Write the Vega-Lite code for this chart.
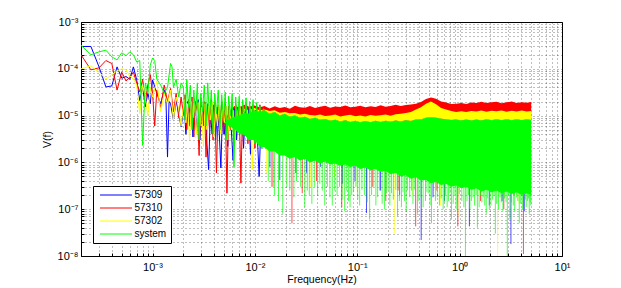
{
"$schema":"https://vega.github.io/schema/vega-lite/v6.json",
"width":481,"height":234,"autosize":"none",
"padding":{"left":81,"top":22,"right":59,"bottom":32},
"background":"#ffffff",
"config":{
"view":{"stroke":"#000000","strokeWidth":1},
"font":"Liberation Sans",
"axis":{"grid":true,"gridDash":[1,3],"gridColor":"#000000","gridOpacity":0.5,"gridWidth":1,"domain":false,"tickColor":"#000000","tickSize":-3,"tickWidth":1,"labelFont":"Liberation Sans","labelFontSize":11,"labelColor":"#000000","titleFont":"Liberation Sans","titleFontSize":10.5,"titleFontWeight":"normal","titleColor":"#000000","labelOverlap":false,"labelFlush":false}
},
"datasets":{
"lines":[
{"s":"57309","f":0.0002,"v":3.0e-4},{"s":"57309","f":0.00025,"v":3.0e-4},{"s":"57309","f":0.0003,"v":1.1e-4},{"s":"57309","f":0.00035,"v":4.1e-5},{"s":"57309","f":0.0004,"v":4.3e-5},{"s":"57309","f":0.00045,"v":1.1e-4},{"s":"57309","f":0.0005,"v":6.3e-5},{"s":"57309","f":0.00055,"v":6.8e-5},{"s":"57309","f":0.0006,"v":6.0e-5},{"s":"57309","f":0.00065,"v":1.1e-4},{"s":"57309","f":0.0007,"v":5.8e-5},{"s":"57309","f":0.00075,"v":2.1e-5},{"s":"57309","f":0.0008,"v":4.1e-5},{"s":"57309","f":0.00085,"v":1.55e-5},{"s":"57309","f":0.0009,"v":3.0e-5},{"s":"57309","f":0.00095,"v":1.8e-5},{"s":"57309","f":0.001,"v":5.8e-5},{"s":"57309","f":0.0011,"v":3.0e-5},{"s":"57309","f":0.0012,"v":1.8e-5},{"s":"57309","f":0.0013,"v":3.5e-5},{"s":"57309","f":0.00135,"v":2.5e-5},{"s":"57309","f":0.0014,"v":1.3e-6},{"s":"57309","f":0.00145,"v":2.0e-5},{"s":"57309","f":0.0015,"v":1.8e-5},{"s":"57309","f":0.0016,"v":8e-6},{"s":"57309","f":0.0017,"v":2.1e-5},{"s":"57309","f":0.0018,"v":1.1e-5},{"s":"57309","f":0.0019,"v":5.8e-6},
{"s":"57309","f":0.00204,"v":1.5e-5},{"s":"57309","f":0.00212,"v":4e-6},{"s":"57309","f":0.0022,"v":2.0e-5},{"s":"57309","f":0.0023,"v":6e-6},{"s":"57309","f":0.00239,"v":1.8e-5},{"s":"57309","f":0.00248,"v":3.5e-6},{"s":"57309","f":0.00258,"v":1.6e-5},{"s":"57309","f":0.00268,"v":5e-6},{"s":"57309","f":0.00279,"v":2.2e-5},{"s":"57309","f":0.0029,"v":3e-6},{"s":"57309","f":0.00302,"v":1.4e-5},{"s":"57309","f":0.00314,"v":6e-6},{"s":"57309","f":0.00326,"v":1.9e-5},{"s":"57309","f":0.0034,"v":2.5e-6},{"s":"57309","f":0.00353,"v":7e-7},{"s":"57309","f":0.00367,"v":1.2e-5},{"s":"57309","f":0.00382,"v":4e-6},{"s":"57309","f":0.00397,"v":1.7e-5},{"s":"57309","f":0.00413,"v":3e-6},{"s":"57309","f":0.0043,"v":1.5e-5},{"s":"57309","f":0.00447,"v":5e-6},{"s":"57309","f":0.00465,"v":7.6e-7},{"s":"57309","f":0.00483,"v":1.3e-5},{"s":"57309","f":0.00503,"v":4e-6},{"s":"57309","f":0.00523,"v":1.6e-5},{"s":"57309","f":0.00543,"v":2.2e-6},{"s":"57309","f":0.00565,"v":1.2e-5},{"s":"57309","f":0.00588,"v":5e-6},{"s":"57309","f":0.00612,"v":1.1e-6},{"s":"57309","f":0.00636,"v":1.4e-5},{"s":"57309","f":0.00662,"v":3e-6},{"s":"57309","f":0.00688,"v":1.3e-5},{"s":"57309","f":0.00716,"v":6e-6},{"s":"57309","f":0.00744,"v":1.5e-5},{"s":"57309","f":0.00774,"v":2e-6},{"s":"57309","f":0.00805,"v":1.2e-5},{"s":"57309","f":0.00837,"v":4e-6},{"s":"57309","f":0.0087,"v":1.4e-5},{"s":"57309","f":0.00905,"v":1.5e-6},{"s":"57309","f":0.00941,"v":1.1e-5},{"s":"57309","f":0.0098,"v":5e-6},{"s":"57309","f":0.0102,"v":1.3e-5},{"s":"57309","f":0.0106,"v":3e-6},{"s":"57309","f":0.011,"v":5e-7},{"s":"57309","f":0.0115,"v":1.0e-5},{"s":"57309","f":0.0119,"v":4e-6},{"s":"57309","f":0.0124,"v":8e-6},
{"s":"57310","f":0.0002,"v":2.0e-4},{"s":"57310","f":0.00025,"v":9.5e-5},{"s":"57310","f":0.0003,"v":1.05e-4},{"s":"57310","f":0.00035,"v":1.5e-4},{"s":"57310","f":0.0004,"v":1.3e-4},{"s":"57310","f":0.00045,"v":3.5e-5},{"s":"57310","f":0.0005,"v":8.5e-5},{"s":"57310","f":0.00055,"v":5.5e-5},{"s":"57310","f":0.0006,"v":6.5e-5},{"s":"57310","f":0.00065,"v":8.5e-5},{"s":"57310","f":0.0007,"v":5.0e-5},{"s":"57310","f":0.00075,"v":3.2e-5},{"s":"57310","f":0.0008,"v":6.0e-5},{"s":"57310","f":0.00085,"v":2.0e-5},{"s":"57310","f":0.0009,"v":4.5e-5},{"s":"57310","f":0.00095,"v":7.5e-5},{"s":"57310","f":0.001,"v":3.0e-5},{"s":"57310","f":0.00105,"v":6.0e-6},{"s":"57310","f":0.0011,"v":3.5e-5},{"s":"57310","f":0.0012,"v":1.5e-5},{"s":"57310","f":0.0013,"v":4.5e-5},{"s":"57310","f":0.0014,"v":2.0e-5},{"s":"57310","f":0.0015,"v":3.8e-5},{"s":"57310","f":0.0016,"v":1.2e-5},{"s":"57310","f":0.0017,"v":3.0e-5},{"s":"57310","f":0.0018,"v":9e-6},{"s":"57310","f":0.0019,"v":2.5e-5},
{"s":"57310","f":0.002,"v":1.1e-5},{"s":"57310","f":0.00208,"v":2.8e-5},{"s":"57310","f":0.00216,"v":5e-6},{"s":"57310","f":0.00225,"v":2.2e-5},{"s":"57310","f":0.00234,"v":8e-6},{"s":"57310","f":0.00243,"v":2.5e-5},{"s":"57310","f":0.00253,"v":3.5e-6},{"s":"57310","f":0.00263,"v":2.0e-5},{"s":"57310","f":0.00274,"v":1.2e-5},{"s":"57310","f":0.00285,"v":1.4e-6},{"s":"57310","f":0.00296,"v":2.4e-5},{"s":"57310","f":0.00308,"v":6e-6},{"s":"57310","f":0.0032,"v":2.0e-5},{"s":"57310","f":0.00333,"v":1.3e-6},{"s":"57310","f":0.00346,"v":1.8e-5},{"s":"57310","f":0.0036,"v":5e-6},{"s":"57310","f":0.00375,"v":2.2e-5},{"s":"57310","f":0.0039,"v":3e-6},{"s":"57310","f":0.00405,"v":1.9e-5},{"s":"57310","f":0.00421,"v":6e-7},{"s":"57310","f":0.00438,"v":1.7e-5},{"s":"57310","f":0.00456,"v":7e-6},{"s":"57310","f":0.00474,"v":2.0e-5},{"s":"57310","f":0.00493,"v":4e-6},{"s":"57310","f":0.00513,"v":1.8e-5},{"s":"57310","f":0.00533,"v":2.2e-7},{"s":"57310","f":0.00554,"v":1.6e-5},{"s":"57310","f":0.00577,"v":5e-6},{"s":"57310","f":0.006,"v":1.9e-5},{"s":"57310","f":0.00624,"v":3e-6},{"s":"57310","f":0.00649,"v":1.7e-5},{"s":"57310","f":0.00675,"v":6e-6},{"s":"57310","f":0.00702,"v":1.5e-5},{"s":"57310","f":0.0073,"v":3.6e-7},{"s":"57310","f":0.00759,"v":1.6e-5},{"s":"57310","f":0.0079,"v":4e-6},{"s":"57310","f":0.0082,"v":1.8e-5},{"s":"57310","f":0.00854,"v":2.5e-6},{"s":"57310","f":0.00888,"v":1.6e-5},{"s":"57310","f":0.00923,"v":5e-6},{"s":"57310","f":0.0096,"v":1.7e-5},{"s":"57310","f":0.01,"v":2e-6},{"s":"57310","f":0.0104,"v":1.5e-5},{"s":"57310","f":0.0108,"v":6e-6},{"s":"57310","f":0.0112,"v":1.7e-5},{"s":"57310","f":0.0117,"v":3e-6},{"s":"57310","f":0.0121,"v":1.5e-5},{"s":"57310","f":0.0126,"v":8e-6},
{"s":"57302","f":0.0002,"v":1.0e-4},{"s":"57302","f":0.00025,"v":1.15e-4},{"s":"57302","f":0.0003,"v":8.5e-5},{"s":"57302","f":0.00035,"v":6.0e-5},{"s":"57302","f":0.0004,"v":7.5e-5},{"s":"57302","f":0.00045,"v":9.0e-5},{"s":"57302","f":0.0005,"v":1.0e-4},{"s":"57302","f":0.00055,"v":9.5e-5},{"s":"57302","f":0.0006,"v":7.0e-5},{"s":"57302","f":0.00065,"v":6.0e-5},{"s":"57302","f":0.0007,"v":4.5e-5},{"s":"57302","f":0.00075,"v":1.1e-5},{"s":"57302","f":0.0008,"v":4.5e-5},{"s":"57302","f":0.00085,"v":2.5e-5},{"s":"57302","f":0.0009,"v":1.0e-5},{"s":"57302","f":0.00095,"v":4.0e-5},{"s":"57302","f":0.001,"v":2.5e-5},{"s":"57302","f":0.0011,"v":5.5e-5},{"s":"57302","f":0.0012,"v":1.2e-5},{"s":"57302","f":0.0013,"v":3.0e-5},{"s":"57302","f":0.0014,"v":1.8e-5},{"s":"57302","f":0.0015,"v":3.5e-5},{"s":"57302","f":0.0016,"v":8e-6},{"s":"57302","f":0.0017,"v":2.5e-5},{"s":"57302","f":0.0018,"v":1.4e-5},{"s":"57302","f":0.0019,"v":6e-6},
{"s":"57302","f":0.00204,"v":2.2e-5},{"s":"57302","f":0.00212,"v":7e-6},{"s":"57302","f":0.0022,"v":1.8e-5},{"s":"57302","f":0.0023,"v":3e-6},{"s":"57302","f":0.00239,"v":2.0e-5},{"s":"57302","f":0.00248,"v":9e-6},{"s":"57302","f":0.00258,"v":1.7e-5},{"s":"57302","f":0.00268,"v":4e-6},{"s":"57302","f":0.00279,"v":1.9e-5},{"s":"57302","f":0.0029,"v":6e-6},{"s":"57302","f":0.00302,"v":1.5e-5},{"s":"57302","f":0.00314,"v":2.2e-6},{"s":"57302","f":0.00326,"v":1.8e-5},{"s":"57302","f":0.0034,"v":5e-6},{"s":"57302","f":0.00353,"v":1.6e-5},{"s":"57302","f":0.00367,"v":8e-6},{"s":"57302","f":0.00382,"v":2.0e-5},{"s":"57302","f":0.00397,"v":3.5e-6},{"s":"57302","f":0.00413,"v":1.5e-5},{"s":"57302","f":0.0043,"v":6e-6},{"s":"57302","f":0.00447,"v":1.7e-5},{"s":"57302","f":0.00465,"v":4e-6},{"s":"57302","f":0.00483,"v":1.4e-5},{"s":"57302","f":0.00503,"v":7e-6},{"s":"57302","f":0.00523,"v":1.6e-5},{"s":"57302","f":0.00543,"v":3e-6},{"s":"57302","f":0.00565,"v":1.5e-5},{"s":"57302","f":0.00588,"v":5e-6},{"s":"57302","f":0.00612,"v":1.3e-5},{"s":"57302","f":0.00636,"v":2.5e-6},{"s":"57302","f":0.00662,"v":1.4e-5},{"s":"57302","f":0.00688,"v":6e-6},{"s":"57302","f":0.00716,"v":1.5e-5},{"s":"57302","f":0.00744,"v":4e-6},{"s":"57302","f":0.00774,"v":1.2e-5},{"s":"57302","f":0.00805,"v":4e-6},{"s":"57302","f":0.00837,"v":1.3e-5},{"s":"57302","f":0.0087,"v":5e-6},{"s":"57302","f":0.00905,"v":1.4e-5},{"s":"57302","f":0.00941,"v":7e-7},{"s":"57302","f":0.0098,"v":1.2e-5},{"s":"57302","f":0.0102,"v":3e-6},{"s":"57302","f":0.0106,"v":1.3e-5},{"s":"57302","f":0.011,"v":6e-6},{"s":"57302","f":0.0115,"v":1.2e-5},{"s":"57302","f":0.0119,"v":2.5e-6},{"s":"57302","f":0.0124,"v":9e-6},
{"s":"system","f":0.0002,"v":3.2e-4},{"s":"system","f":0.00025,"v":2.0e-4},{"s":"system","f":0.0003,"v":2.3e-4},{"s":"system","f":0.00035,"v":2.5e-4},{"s":"system","f":0.0004,"v":1.8e-4},{"s":"system","f":0.00045,"v":1.55e-4},{"s":"system","f":0.0005,"v":2.2e-4},{"s":"system","f":0.00055,"v":1.9e-4},{"s":"system","f":0.0006,"v":2.3e-4},{"s":"system","f":0.00065,"v":2.0e-4},{"s":"system","f":0.0007,"v":1.4e-4},{"s":"system","f":0.00075,"v":1.5e-4},{"s":"system","f":0.0008,"v":2.3e-6},{"s":"system","f":0.00085,"v":5.0e-5},{"s":"system","f":0.0009,"v":3.0e-5},{"s":"system","f":0.00095,"v":1.2e-4},{"s":"system","f":0.001,"v":1.7e-4},{"s":"system","f":0.00105,"v":1.5e-4},{"s":"system","f":0.0011,"v":6.0e-5},{"s":"system","f":0.0012,"v":4.5e-5},{"s":"system","f":0.0013,"v":3.0e-5},{"s":"system","f":0.0014,"v":4.0e-5},{"s":"system","f":0.0015,"v":1.3e-4},{"s":"system","f":0.00155,"v":1.1e-4},{"s":"system","f":0.0016,"v":4.0e-5},{"s":"system","f":0.0017,"v":6.0e-5},{"s":"system","f":0.0018,"v":2.5e-5},{"s":"system","f":0.0019,"v":5.0e-5},
{"s":"system","f":0.002,"v":4.0e-5},{"s":"system","f":0.00208,"v":8e-6},{"s":"system","f":0.00216,"v":6.0e-5},{"s":"system","f":0.00225,"v":1.5e-5},{"s":"system","f":0.00234,"v":4.5e-5},{"s":"system","f":0.00243,"v":5e-6},{"s":"system","f":0.00253,"v":3.5e-5},{"s":"system","f":0.00263,"v":1.0e-5},{"s":"system","f":0.00274,"v":5.0e-5},{"s":"system","f":0.00285,"v":3e-6},{"s":"system","f":0.00296,"v":3.0e-5},{"s":"system","f":0.00308,"v":1.2e-5},{"s":"system","f":0.0032,"v":4.5e-5},{"s":"system","f":0.00333,"v":6e-6},{"s":"system","f":0.00346,"v":5.0e-5},{"s":"system","f":0.0036,"v":9e-6},{"s":"system","f":0.00375,"v":3.5e-5},{"s":"system","f":0.0039,"v":4e-6},{"s":"system","f":0.00405,"v":3.0e-5},{"s":"system","f":0.00421,"v":1.1e-5},{"s":"system","f":0.00438,"v":3.5e-5},{"s":"system","f":0.00456,"v":5e-6},{"s":"system","f":0.00474,"v":2.8e-5},{"s":"system","f":0.00493,"v":8e-6},{"s":"system","f":0.00513,"v":3.2e-5},{"s":"system","f":0.00533,"v":3e-6},{"s":"system","f":0.00554,"v":2.6e-5},{"s":"system","f":0.00577,"v":1.0e-5},{"s":"system","f":0.006,"v":3.0e-5},{"s":"system","f":0.00624,"v":8e-7},{"s":"system","f":0.00649,"v":2.5e-5},{"s":"system","f":0.00675,"v":6e-6},{"s":"system","f":0.00702,"v":2.6e-5},{"s":"system","f":0.0073,"v":4e-6},{"s":"system","f":0.00759,"v":2.2e-5},{"s":"system","f":0.0079,"v":9e-6},{"s":"system","f":0.0082,"v":2.4e-5},{"s":"system","f":0.00854,"v":3e-6},{"s":"system","f":0.00888,"v":2.0e-5},{"s":"system","f":0.00923,"v":7e-6},{"s":"system","f":0.0096,"v":2.2e-5},{"s":"system","f":0.01,"v":2.5e-6},{"s":"system","f":0.0104,"v":1.9e-5},{"s":"system","f":0.0108,"v":5e-6},{"s":"system","f":0.0112,"v":1.6e-5},{"s":"system","f":0.0117,"v":2e-6},{"s":"system","f":0.0121,"v":1.4e-5},{"s":"system","f":0.0126,"v":6e-6}
],
"bands":[
{"s":"57310","f":0.005,"v":7e-6,"v2":7e-6},{"s":"57310","f":0.0056,"v":1.2e-5,"v2":8.5e-6},{"s":"57310","f":0.0063,"v":1.6e-5,"v2":9.5e-6},{"s":"57310","f":0.007,"v":1.5e-5,"v2":1.0e-5},{"s":"57310","f":0.0079,"v":1.7e-5,"v2":1.15e-5},{"s":"57310","f":0.0088,"v":1.55e-5,"v2":1.1e-5},{"s":"57310","f":0.0099,"v":1.65e-5,"v2":1.3e-5},{"s":"57310","f":0.0111,"v":1.5e-5,"v2":1.2e-5},{"s":"57310","f":0.0124,"v":1.6e-5,"v2":1.3e-5},{"s":"57310","f":0.0139,"v":1.42e-5,"v2":1.1e-5},{"s":"57310","f":0.0156,"v":1.58e-5,"v2":1.2e-5},{"s":"57310","f":0.0175,"v":1.45e-5,"v2":1.0e-5},{"s":"57310","f":0.0196,"v":1.52e-5,"v2":1.1e-5},{"s":"57310","f":0.0219,"v":1.4e-5,"v2":9.5e-6},{"s":"57310","f":0.0246,"v":1.62e-5,"v2":1.0e-5},{"s":"57310","f":0.0275,"v":1.5e-5,"v2":9e-6},{"s":"57310","f":0.0308,"v":1.47e-5,"v2":9.5e-6},{"s":"57310","f":0.0345,"v":1.6e-5,"v2":8.5e-6},{"s":"57310","f":0.0387,"v":1.45e-5,"v2":9e-6},{"s":"57310","f":0.0433,"v":1.55e-5,"v2":8.2e-6},{"s":"57310","f":0.0485,"v":1.63e-5,"v2":8.5e-6},{"s":"57310","f":0.0543,"v":1.48e-5,"v2":7.8e-6},{"s":"57310","f":0.0609,"v":1.57e-5,"v2":8.2e-6},{"s":"57310","f":0.0682,"v":1.52e-5,"v2":7.5e-6},{"s":"57310","f":0.0764,"v":1.65e-5,"v2":8e-6},{"s":"57310","f":0.0855,"v":1.5e-5,"v2":7.3e-6},{"s":"57310","f":0.0958,"v":1.55e-5,"v2":7.8e-6},{"s":"57310","f":0.107,"v":1.62e-5,"v2":7.2e-6},{"s":"57310","f":0.12,"v":1.5e-5,"v2":7.7e-6},{"s":"57310","f":0.135,"v":1.58e-5,"v2":7.2e-6},{"s":"57310","f":0.151,"v":1.53e-5,"v2":7.8e-6},{"s":"57310","f":0.169,"v":1.66e-5,"v2":7.3e-6},{"s":"57310","f":0.189,"v":1.55e-5,"v2":7.8e-6},{"s":"57310","f":0.212,"v":1.6e-5,"v2":7.4e-6},{"s":"57310","f":0.237,"v":1.7e-5,"v2":7.9e-6},{"s":"57310","f":0.266,"v":1.6e-5,"v2":7.5e-6},{"s":"57310","f":0.298,"v":1.68e-5,"v2":8e-6},{"s":"57310","f":0.334,"v":1.72e-5,"v2":7.7e-6},{"s":"57310","f":0.374,"v":1.8e-5,"v2":8.3e-6},{"s":"57310","f":0.419,"v":1.95e-5,"v2":8.3e-6},{"s":"57310","f":0.469,"v":2.25e-5,"v2":9e-6},{"s":"57310","f":0.525,"v":2.45e-5,"v2":9.2e-6},{"s":"57310","f":0.588,"v":2.3e-5,"v2":9e-6},{"s":"57310","f":0.659,"v":2.0e-5,"v2":8.6e-6},{"s":"57310","f":0.738,"v":1.9e-5,"v2":8.4e-6},{"s":"57310","f":0.826,"v":1.78e-5,"v2":8.1e-6},{"s":"57310","f":0.925,"v":1.8e-5,"v2":8.3e-6},{"s":"57310","f":1.04,"v":1.85e-5,"v2":7.9e-6},{"s":"57310","f":1.16,"v":1.78e-5,"v2":8.3e-6},{"s":"57310","f":1.3,"v":1.9e-5,"v2":7.9e-6},{"s":"57310","f":1.46,"v":1.86e-5,"v2":8.3e-6},{"s":"57310","f":1.63,"v":1.97e-5,"v2":7.9e-6},{"s":"57310","f":1.83,"v":1.85e-5,"v2":8.4e-6},{"s":"57310","f":2.05,"v":1.93e-5,"v2":8e-6},{"s":"57310","f":2.29,"v":1.97e-5,"v2":8.4e-6},{"s":"57310","f":2.57,"v":1.84e-5,"v2":8e-6},{"s":"57310","f":2.88,"v":1.92e-5,"v2":8.4e-6},{"s":"57310","f":3.22,"v":1.99e-5,"v2":8e-6},{"s":"57310","f":3.61,"v":1.87e-5,"v2":8.4e-6},{"s":"57310","f":4.04,"v":1.94e-5,"v2":8e-6},{"s":"57310","f":4.53,"v":1.88e-5,"v2":8.4e-6},{"s":"57310","f":5.0,"v":1.95e-5,"v2":8.1e-6},
{"s":"57302","f":0.005,"v":7e-6,"v2":7e-6},{"s":"57302","f":0.0056,"v":1.0e-5,"v2":8.5e-6},{"s":"57302","f":0.0063,"v":1.25e-5,"v2":9.5e-6},{"s":"57302","f":0.007,"v":1.3e-5,"v2":1.0e-5},{"s":"57302","f":0.0079,"v":1.4e-5,"v2":1.15e-5},{"s":"57302","f":0.0088,"v":1.3e-5,"v2":1.1e-5},{"s":"57302","f":0.0099,"v":1.45e-5,"v2":1.3e-5},{"s":"57302","f":0.0111,"v":1.3e-5,"v2":1.2e-5},{"s":"57302","f":0.0124,"v":1.35e-5,"v2":1.3e-5},{"s":"57302","f":0.0139,"v":1.25e-5,"v2":1.1e-5},{"s":"57302","f":0.0156,"v":1.3e-5,"v2":1.2e-5},{"s":"57302","f":0.0175,"v":1.15e-5,"v2":1.0e-5},{"s":"57302","f":0.0196,"v":1.2e-5,"v2":1.1e-5},{"s":"57302","f":0.0219,"v":1.12e-5,"v2":9.5e-6},{"s":"57302","f":0.0246,"v":1.13e-5,"v2":1.0e-5},{"s":"57302","f":0.0275,"v":1.05e-5,"v2":9e-6},{"s":"57302","f":0.0308,"v":1.1e-5,"v2":9.5e-6},{"s":"57302","f":0.0345,"v":1.03e-5,"v2":8.5e-6},{"s":"57302","f":0.0387,"v":1.0e-5,"v2":9e-6},{"s":"57302","f":0.0433,"v":1.06e-5,"v2":8.2e-6},{"s":"57302","f":0.0485,"v":9.8e-6,"v2":8.5e-6},{"s":"57302","f":0.0543,"v":1.01e-5,"v2":7.8e-6},{"s":"57302","f":0.0609,"v":1.05e-5,"v2":8.2e-6},{"s":"57302","f":0.0682,"v":9.6e-6,"v2":7.5e-6},{"s":"57302","f":0.0764,"v":1.0e-5,"v2":8e-6},{"s":"57302","f":0.0855,"v":1.04e-5,"v2":7.3e-6},{"s":"57302","f":0.0958,"v":9.7e-6,"v2":7.8e-6},{"s":"57302","f":0.107,"v":1.01e-5,"v2":7.2e-6},{"s":"57302","f":0.12,"v":9.6e-6,"v2":7.7e-6},{"s":"57302","f":0.135,"v":1.03e-5,"v2":7.2e-6},{"s":"57302","f":0.151,"v":9.9e-6,"v2":7.8e-6},{"s":"57302","f":0.169,"v":1.02e-5,"v2":7.3e-6},{"s":"57302","f":0.189,"v":1.05e-5,"v2":7.8e-6},{"s":"57302","f":0.212,"v":9.9e-6,"v2":7.4e-6},{"s":"57302","f":0.237,"v":1.07e-5,"v2":7.9e-6},{"s":"57302","f":0.266,"v":1.1e-5,"v2":7.5e-6},{"s":"57302","f":0.298,"v":1.13e-5,"v2":8e-6},{"s":"57302","f":0.334,"v":1.2e-5,"v2":7.7e-6},{"s":"57302","f":0.374,"v":1.35e-5,"v2":8.3e-6},{"s":"57302","f":0.419,"v":1.5e-5,"v2":8.3e-6},{"s":"57302","f":0.469,"v":1.8e-5,"v2":9e-6},{"s":"57302","f":0.525,"v":2.0e-5,"v2":9.2e-6},{"s":"57302","f":0.588,"v":1.75e-5,"v2":9e-6},{"s":"57302","f":0.659,"v":1.45e-5,"v2":8.6e-6},{"s":"57302","f":0.738,"v":1.35e-5,"v2":8.4e-6},{"s":"57302","f":0.826,"v":1.25e-5,"v2":8.1e-6},{"s":"57302","f":0.925,"v":1.2e-5,"v2":8.3e-6},{"s":"57302","f":1.04,"v":1.24e-5,"v2":7.9e-6},{"s":"57302","f":1.16,"v":1.19e-5,"v2":8.3e-6},{"s":"57302","f":1.3,"v":1.26e-5,"v2":7.9e-6},{"s":"57302","f":1.46,"v":1.22e-5,"v2":8.3e-6},{"s":"57302","f":1.63,"v":1.28e-5,"v2":7.9e-6},{"s":"57302","f":1.83,"v":1.21e-5,"v2":8.4e-6},{"s":"57302","f":2.05,"v":1.27e-5,"v2":8e-6},{"s":"57302","f":2.29,"v":1.24e-5,"v2":8.4e-6},{"s":"57302","f":2.57,"v":1.29e-5,"v2":8e-6},{"s":"57302","f":2.88,"v":1.21e-5,"v2":8.4e-6},{"s":"57302","f":3.22,"v":1.27e-5,"v2":8e-6},{"s":"57302","f":3.61,"v":1.23e-5,"v2":8.4e-6},{"s":"57302","f":4.04,"v":1.29e-5,"v2":8e-6},{"s":"57302","f":4.53,"v":1.22e-5,"v2":8.4e-6},{"s":"57302","f":5.0,"v":1.26e-5,"v2":8.1e-6},
{"s":"system","f":0.005,"v":7e-6,"v2":7e-6},{"s":"system","f":0.0056,"v":8.5e-6,"v2":6e-6},{"s":"system","f":0.0063,"v":9.5e-6,"v2":5.2e-6},{"s":"system","f":0.007,"v":1.0e-5,"v2":4.2e-6},{"s":"system","f":0.0079,"v":1.15e-5,"v2":3.8e-6},{"s":"system","f":0.0088,"v":1.1e-5,"v2":3.0e-6},{"s":"system","f":0.0099,"v":1.3e-5,"v2":3.0e-6},{"s":"system","f":0.0111,"v":1.2e-5,"v2":2.2e-6},{"s":"system","f":0.0124,"v":1.3e-5,"v2":2.1e-6},{"s":"system","f":0.0139,"v":1.1e-5,"v2":1.7e-6},{"s":"system","f":0.0156,"v":1.2e-5,"v2":1.7e-6},{"s":"system","f":0.0175,"v":1.0e-5,"v2":1.4e-6},{"s":"system","f":0.0196,"v":1.1e-5,"v2":1.4e-6},{"s":"system","f":0.0219,"v":9.5e-6,"v2":1.2e-6},{"s":"system","f":0.0246,"v":1.0e-5,"v2":1.3e-6},{"s":"system","f":0.0275,"v":9e-6,"v2":1.1e-6},{"s":"system","f":0.0308,"v":9.5e-6,"v2":1.2e-6},{"s":"system","f":0.0345,"v":8.5e-6,"v2":1.0e-6},{"s":"system","f":0.0387,"v":9e-6,"v2":1.1e-6},{"s":"system","f":0.0433,"v":8.2e-6,"v2":9.5e-7},{"s":"system","f":0.0485,"v":8.5e-6,"v2":1.05e-6},{"s":"system","f":0.0543,"v":7.8e-6,"v2":9e-7},{"s":"system","f":0.0609,"v":8.2e-6,"v2":9.5e-7},{"s":"system","f":0.0682,"v":7.5e-6,"v2":8.5e-7},{"s":"system","f":0.0764,"v":8e-6,"v2":9e-7},{"s":"system","f":0.0855,"v":7.3e-6,"v2":8e-7},{"s":"system","f":0.0958,"v":7.8e-6,"v2":8.5e-7},{"s":"system","f":0.107,"v":7.2e-6,"v2":7.2e-7},{"s":"system","f":0.12,"v":7.7e-6,"v2":7.8e-7},{"s":"system","f":0.135,"v":7.2e-6,"v2":6.8e-7},{"s":"system","f":0.151,"v":7.8e-6,"v2":7.2e-7},{"s":"system","f":0.169,"v":7.3e-6,"v2":6.2e-7},{"s":"system","f":0.189,"v":7.8e-6,"v2":6.6e-7},{"s":"system","f":0.212,"v":7.4e-6,"v2":5.6e-7},{"s":"system","f":0.237,"v":7.9e-6,"v2":6e-7},{"s":"system","f":0.266,"v":7.5e-6,"v2":5e-7},{"s":"system","f":0.298,"v":8e-6,"v2":5.3e-7},{"s":"system","f":0.334,"v":7.7e-6,"v2":4.5e-7},{"s":"system","f":0.374,"v":8.3e-6,"v2":4.8e-7},{"s":"system","f":0.419,"v":8.3e-6,"v2":4.1e-7},{"s":"system","f":0.469,"v":9e-6,"v2":4.2e-7},{"s":"system","f":0.525,"v":9.2e-6,"v2":3.6e-7},{"s":"system","f":0.588,"v":9e-6,"v2":3.8e-7},{"s":"system","f":0.659,"v":8.6e-6,"v2":3.3e-7},{"s":"system","f":0.738,"v":8.4e-6,"v2":3.5e-7},{"s":"system","f":0.826,"v":8.1e-6,"v2":3.0e-7},{"s":"system","f":0.925,"v":8.3e-6,"v2":3.2e-7},{"s":"system","f":1.04,"v":7.9e-6,"v2":2.8e-7},{"s":"system","f":1.16,"v":8.3e-6,"v2":3.0e-7},{"s":"system","f":1.3,"v":7.9e-6,"v2":2.6e-7},{"s":"system","f":1.46,"v":8.3e-6,"v2":2.8e-7},{"s":"system","f":1.63,"v":7.9e-6,"v2":2.4e-7},{"s":"system","f":1.83,"v":8.4e-6,"v2":2.6e-7},{"s":"system","f":2.05,"v":8e-6,"v2":2.3e-7},{"s":"system","f":2.29,"v":8.4e-6,"v2":2.5e-7},{"s":"system","f":2.57,"v":8e-6,"v2":2.2e-7},{"s":"system","f":2.88,"v":8.4e-6,"v2":2.4e-7},{"s":"system","f":3.22,"v":8e-6,"v2":2.1e-7},{"s":"system","f":3.61,"v":8.4e-6,"v2":2.3e-7},{"s":"system","f":4.04,"v":8e-6,"v2":2.0e-7},{"s":"system","f":4.53,"v":8.4e-6,"v2":2.2e-7},{"s":"system","f":5.0,"v":8.1e-6,"v2":2.0e-7}
],
"spikes":[
{"s":"57309","f":0.014,"v":8e-7},{"s":"57309","f":0.0175,"v":4.2e-7},{"s":"57309","f":0.0251,"v":5.9e-7},{"s":"57309","f":0.032,"v":6e-7},{"s":"57309","f":0.0439,"v":8e-7},{"s":"57309","f":0.0721,"v":3.5e-7},{"s":"57309","f":0.095,"v":4e-7},{"s":"57309","f":0.123,"v":8.3e-8},{"s":"57309","f":0.169,"v":2.5e-7},{"s":"57309","f":0.259,"v":2e-7},{"s":"57309","f":0.421,"v":2.2e-8},{"s":"57309","f":0.55,"v":1.8e-7},{"s":"57309","f":0.711,"v":1.5e-7},{"s":"57309","f":1.245,"v":4.3e-8},{"s":"57309","f":1.95,"v":1.2e-7},{"s":"57309","f":2.6,"v":1.5e-7},{"s":"57309","f":3.17,"v":1.8e-8},{"s":"57309","f":4.28,"v":9e-8},
{"s":"57310","f":0.015,"v":3e-7},{"s":"57310","f":0.023,"v":5e-8},{"s":"57310","f":0.029,"v":2.2e-7},{"s":"57310","f":0.04,"v":4e-7},{"s":"57310","f":0.0705,"v":1.1e-7},{"s":"57310","f":0.14,"v":3e-7},{"s":"57310","f":0.19,"v":1.5e-7},{"s":"57310","f":0.25,"v":2.5e-7},{"s":"57310","f":0.372,"v":4.3e-8},{"s":"57310","f":0.6,"v":2.5e-7},{"s":"57310","f":0.96,"v":4.3e-8},{"s":"57310","f":1.6,"v":1.5e-7},{"s":"57310","f":2.7,"v":1e-7},{"s":"57310","f":3.4,"v":2e-7},{"s":"57310","f":4.2,"v":1.1e-8},
{"s":"57302","f":0.013,"v":6e-7},{"s":"57302","f":0.02,"v":4e-7},{"s":"57302","f":0.035,"v":3e-7},{"s":"57302","f":0.06,"v":5e-7},{"s":"57302","f":0.1,"v":2.5e-7},{"s":"57302","f":0.23,"v":3e-8},{"s":"57302","f":0.35,"v":2e-7},{"s":"57302","f":0.65,"v":1.2e-7},{"s":"57302","f":0.99,"v":7e-8},{"s":"57302","f":1.5,"v":2e-7},{"s":"57302","f":2.35,"v":9e-9},{"s":"57302","f":3.8,"v":1.3e-7},
{"s":"system","f":0.0135,"v":4e-7},{"s":"system","f":0.0145,"v":3e-7},{"s":"system","f":0.0155,"v":2e-7},{"s":"system","f":0.017,"v":1.5e-7},{"s":"system","f":0.0187,"v":8e-8},{"s":"system","f":0.0205,"v":3e-7},{"s":"system","f":0.0219,"v":2.5e-7},{"s":"system","f":0.024,"v":1.8e-7},{"s":"system","f":0.0255,"v":4e-7},{"s":"system","f":0.028,"v":3e-7},{"s":"system","f":0.0307,"v":1.1e-7},{"s":"system","f":0.0325,"v":2.5e-7},{"s":"system","f":0.034,"v":2e-7},{"s":"system","f":0.036,"v":1.3e-7},{"s":"system","f":0.0384,"v":3e-7},{"s":"system","f":0.041,"v":2e-7},{"s":"system","f":0.043,"v":3.5e-7},{"s":"system","f":0.0455,"v":2.5e-7},{"s":"system","f":0.0481,"v":1.2e-7},{"s":"system","f":0.051,"v":3e-7},{"s":"system","f":0.054,"v":1.8e-7},{"s":"system","f":0.057,"v":1.2e-7},{"s":"system","f":0.0602,"v":2.5e-7},{"s":"system","f":0.0635,"v":2e-7},{"s":"system","f":0.067,"v":3e-7},{"s":"system","f":0.071,"v":1.6e-7},{"s":"system","f":0.0753,"v":9e-8},{"s":"system","f":0.079,"v":2.5e-7},{"s":"system","f":0.082,"v":1.5e-7},{"s":"system","f":0.085,"v":1.1e-7},{"s":"system","f":0.0882,"v":2e-7},{"s":"system","f":0.092,"v":2.3e-7},{"s":"system","f":0.097,"v":3e-7},{"s":"system","f":0.101,"v":1.6e-7},{"s":"system","f":0.1055,"v":1.2e-7},{"s":"system","f":0.111,"v":2.6e-7},{"s":"system","f":0.118,"v":2e-7},{"s":"system","f":0.125,"v":1.4e-7},{"s":"system","f":0.132,"v":6e-8},{"s":"system","f":0.138,"v":2e-7},{"s":"system","f":0.145,"v":3e-7},{"s":"system","f":0.152,"v":1.2e-7},{"s":"system","f":0.158,"v":1.8e-7},{"s":"system","f":0.165,"v":2.5e-7},{"s":"system","f":0.175,"v":1.3e-7},{"s":"system","f":0.185,"v":1e-7},{"s":"system","f":0.192,"v":2.2e-7},{"s":"system","f":0.2,"v":2.5e-7},{"s":"system","f":0.208,"v":1.2e-7},{"s":"system","f":0.216,"v":2.2e-7},{"s":"system","f":0.225,"v":1.6e-7},{"s":"system","f":0.238,"v":2.6e-7},{"s":"system","f":0.2475,"v":7e-8},{"s":"system","f":0.258,"v":1.5e-7},{"s":"system","f":0.27,"v":1.1e-7},{"s":"system","f":0.28,"v":2.3e-7},{"s":"system","f":0.29,"v":1.5e-7},{"s":"system","f":0.3,"v":9e-8},{"s":"system","f":0.31,"v":2.5e-7},{"s":"system","f":0.325,"v":1.8e-7},{"s":"system","f":0.339,"v":2.5e-7},{"s":"system","f":0.35,"v":1.3e-7},{"s":"system","f":0.365,"v":2.6e-7},{"s":"system","f":0.388,"v":8e-8},{"s":"system","f":0.4,"v":1.5e-7},{"s":"system","f":0.42,"v":1.8e-7},{"s":"system","f":0.44,"v":1.1e-7},{"s":"system","f":0.464,"v":1.5e-7},{"s":"system","f":0.48,"v":2.3e-7},{"s":"system","f":0.5,"v":2.2e-7},{"s":"system","f":0.515,"v":1.2e-7},{"s":"system","f":0.531,"v":5e-8},{"s":"system","f":0.555,"v":2.5e-7},{"s":"system","f":0.58,"v":1.5e-7},{"s":"system","f":0.605,"v":1.8e-7},{"s":"system","f":0.635,"v":1.2e-7},{"s":"system","f":0.66,"v":1.7e-7},{"s":"system","f":0.69,"v":1e-7},{"s":"system","f":0.71,"v":1.4e-7},{"s":"system","f":0.727,"v":2e-7},{"s":"system","f":0.755,"v":1.1e-7},{"s":"system","f":0.78,"v":1.5e-7},{"s":"system","f":0.805,"v":2.2e-7},{"s":"system","f":0.832,"v":6e-8},{"s":"system","f":0.865,"v":1.3e-7},{"s":"system","f":0.9,"v":2e-7},{"s":"system","f":0.925,"v":1e-7},{"s":"system","f":0.952,"v":1.3e-7},{"s":"system","f":0.99,"v":2.1e-7},{"s":"system","f":1.05,"v":1.5e-7},{"s":"system","f":1.1,"v":1.1e-7},{"s":"system","f":1.139,"v":8e-9},{"s":"system","f":1.18,"v":1.5e-7},{"s":"system","f":1.22,"v":2e-7},{"s":"system","f":1.26,"v":1e-7},{"s":"system","f":1.302,"v":1.5e-7},{"s":"system","f":1.35,"v":1.8e-7},{"s":"system","f":1.4,"v":1.2e-7},{"s":"system","f":1.45,"v":2e-7},{"s":"system","f":1.49,"v":4e-8},{"s":"system","f":1.55,"v":1.1e-7},{"s":"system","f":1.6,"v":2e-7},{"s":"system","f":1.65,"v":1.4e-7},{"s":"system","f":1.705,"v":1.8e-7},{"s":"system","f":1.76,"v":1.2e-7},{"s":"system","f":1.82,"v":8e-8},{"s":"system","f":1.88,"v":1.7e-7},{"s":"system","f":1.951,"v":1e-7},{"s":"system","f":2.02,"v":1.2e-7},{"s":"system","f":2.1,"v":1.6e-7},{"s":"system","f":2.17,"v":1.9e-7},{"s":"system","f":2.233,"v":3e-8},{"s":"system","f":2.3,"v":1.3e-7},{"s":"system","f":2.4,"v":1e-7},{"s":"system","f":2.48,"v":1.8e-7},{"s":"system","f":2.554,"v":1.4e-7},{"s":"system","f":2.65,"v":9e-8},{"s":"system","f":2.75,"v":1.7e-7},{"s":"system","f":2.84,"v":1.4e-7},{"s":"system","f":2.922,"v":8e-9},{"s":"system","f":3.0,"v":1.9e-7},{"s":"system","f":3.1,"v":6e-8},{"s":"system","f":3.2,"v":1.4e-7},{"s":"system","f":3.344,"v":1.2e-7},{"s":"system","f":3.45,"v":9e-8},{"s":"system","f":3.6,"v":1.8e-7},{"s":"system","f":3.7,"v":1.5e-7},{"s":"system","f":3.826,"v":5e-8},{"s":"system","f":3.95,"v":1.3e-7},{"s":"system","f":4.1,"v":1e-7},{"s":"system","f":4.2,"v":1.9e-7},{"s":"system","f":4.377,"v":1.6e-7},{"s":"system","f":4.47,"v":1.1e-7},{"s":"system","f":4.6,"v":1.5e-7},{"s":"system","f":4.7,"v":1.7e-7},{"s":"system","f":4.788,"v":8e-8},{"s":"system","f":4.88,"v":1.4e-7},{"s":"system","f":4.95,"v":1.2e-7}
]
},
"encoding":{
"x":{"field":"f","type":"quantitative","scale":{"type":"log","domain":[0.0002,10],"nice":false},
"axis":{"title":"Frequency(Hz)","values":[0.0002,0.0003,0.0004,0.0005,0.0006,0.0007,0.0008,0.0009,0.001,0.002,0.003,0.004,0.005,0.006,0.007,0.008,0.009,0.01,0.02,0.03,0.04,0.05,0.06,0.07,0.08,0.09,0.1,0.2,0.3,0.4,0.5,0.6,0.7,0.8,0.9,1,2,3,4,5,6,7,8,9,10],
"labelExpr":"datum.value===0.001?'10⁻³':datum.value===0.01?'10⁻²':datum.value===0.1?'10⁻¹':datum.value===1?'10⁰':datum.value===10?'10¹':''","labelPadding":8,"titlePadding":2}},
"y":{"field":"v","type":"quantitative","scale":{"type":"log","domain":[1e-8,1e-3],"nice":false},
"axis":{"title":"V(f)","values":[1e-8,2e-8,3e-8,4e-8,5e-8,6e-8,7e-8,8e-8,9e-8,1e-7,2e-7,3e-7,4e-7,5e-7,6e-7,7e-7,8e-7,9e-7,1e-6,2e-6,3e-6,4e-6,5e-6,6e-6,7e-6,8e-6,9e-6,1e-5,2e-5,3e-5,4e-5,5e-5,6e-5,7e-5,8e-5,9e-5,1e-4,2e-4,3e-4,4e-4,5e-4,6e-4,7e-4,8e-4,9e-4,1e-3],
"labelExpr":"datum.value===1e-3?'10⁻³':datum.value===1e-4?'10⁻⁴':datum.value===1e-5?'10⁻⁵':datum.value===1e-6?'10⁻⁶':datum.value===1e-7?'10⁻⁷':datum.value===1e-8?'10⁻⁸':''","labelPadding":6,"titlePadding":5}},
"color":{"field":"s","type":"nominal","scale":{"domain":["57309","57310","57302","system"],"range":["#0000ff","#ff0000","#ffff00","#00ff00"]},
"legend":{"title":null,"orient":"none","legendX":12,"legendY":164,"fillColor":"#ffffff","strokeColor":"#000000","padding":4,"symbolType":"M-16,0H16","symbolSize":4,"symbolStrokeWidth":1,"symbolOffset":14,"labelOffset":13.5,"labelFontSize":10,"labelFont":"Liberation Sans","labelColor":"#000000","rowPadding":3,"offset":0,
"encode":{"symbols":{"update":{"stroke":{"scale":"color","field":"value"},"fill":{"value":"transparent"},"strokeWidth":{"value":1},"opacity":{"value":1}}}}}}
},
"layer":[
{"data":{"name":"bands"},"transform":[{"filter":"datum.s==='57310'"}],"mark":{"type":"area","clip":true,"opacity":1},"encoding":{"y2":{"field":"v2"}}},
{"data":{"name":"bands"},"transform":[{"filter":"datum.s==='57302'"}],"mark":{"type":"area","clip":true,"opacity":1},"encoding":{"y2":{"field":"v2"}}},
{"data":{"name":"lines"},"transform":[{"filter":"datum.s==='57309'"}],"mark":{"type":"line","clip":true,"strokeWidth":1}},
{"data":{"name":"lines"},"transform":[{"filter":"datum.s==='57310'"}],"mark":{"type":"line","clip":true,"strokeWidth":1}},
{"data":{"name":"lines"},"transform":[{"filter":"datum.s==='57302'"}],"mark":{"type":"line","clip":true,"strokeWidth":1}},
{"data":{"name":"spikes"},"mark":{"type":"rule","clip":true,"strokeWidth":1,"opacity":0.7},"encoding":{"y2":{"datum":3e-6}}},
{"data":{"name":"bands"},"transform":[{"filter":"datum.s==='system'"}],"mark":{"type":"area","clip":true,"opacity":1},"encoding":{"y2":{"field":"v2"}}},
{"data":{"name":"lines"},"transform":[{"filter":"datum.s==='system'"}],"mark":{"type":"line","clip":true,"strokeWidth":1}}
]
}
